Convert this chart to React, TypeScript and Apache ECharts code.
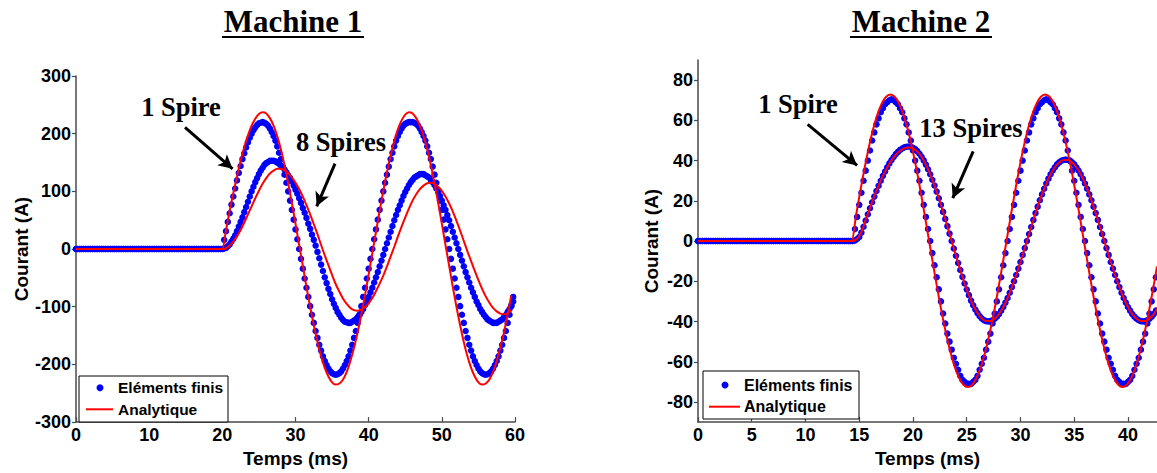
import React, { useEffect, useRef } from "react";
import * as echarts from "echarts";

// ---------------- Machine 1 data (courant en A, temps en ms) ----------------
const M1_FE_STEP = 0.25; // pas des points éléments finis
const M1_AN_STEP = 0.5; // pas des courbes analytiques
const M1_START = 20; // début du transitoire
// valeurs nulles avant le début du transitoire (t = 0 ... 19.75 ms)
const m1Zero = [
  0, 0, 0, 0, 0, 0, 0, 0, 0, 0, 0, 0, 0, 0, 0, 0, 0, 0, 0, 0,
  0, 0, 0, 0, 0, 0, 0, 0, 0, 0, 0, 0, 0, 0, 0, 0, 0, 0, 0, 0,
  0, 0, 0, 0, 0, 0, 0, 0, 0, 0, 0, 0, 0, 0, 0, 0, 0, 0, 0, 0,
  0, 0, 0, 0, 0, 0, 0, 0, 0, 0, 0, 0, 0, 0, 0, 0, 0, 0, 0, 0,
];
// 1 spire - éléments finis (t = 20 ... 59.75)
const m1Fe1 = [
  0, 16, 31, 47, 62, 77, 91, 105, 119, 132, 144, 156, 166, 176, 185, 193, 200, 206, 211, 215, 218, 219, 220,
  219, 217, 214, 209, 203, 196, 188, 178, 167, 156, 143, 129, 115, 100, 84, 68, 51, 34, 17, 0,
  -17, -34, -51, -67, -83, -99, -114, -128, -142, -154, -166, -176, -186, -194, -201, -207, -212, -215, -217, -218,
  -217, -215, -212, -207, -201, -194, -186, -176, -166, -154, -142, -128, -114, -99, -83, -67, -51, -34, -17, 0,
  17, 34, 51, 68, 84, 100, 115, 129, 143, 156, 167, 178, 188, 196, 203, 209, 214, 217, 219, 220,
  220, 220,
  219, 217, 214, 209, 203, 196, 188, 178, 167, 156, 143, 129, 115, 100, 84, 68, 51, 34, 17, 0,
  -17, -34, -51, -67, -83, -99, -114, -128, -142, -154, -166, -176, -186, -194, -201, -207, -212, -215, -217, -218,
  -217, -215, -212, -207, -201, -194, -186, -176, -166, -154, -142, -128, -114, -99, -83,
];
// 8 spires - éléments finis (t = 20 ... 59.75)
const m1Fe8 = [
  0, 1, 2, 5, 8, 13, 18, 24, 31, 39, 47, 55, 64, 73, 82, 91, 100, 108, 116, 123, 130, 136, 141, 146, 149, 151, 153, 153,
  153, 152, 150, 148, 145, 142, 138, 133, 128, 123, 117, 110, 103, 96, 88, 80, 71, 63, 54, 44, 35, 25, 16, 6,
  -5, -16, -27, -38, -49, -59, -69, -78, -87, -95, -102, -109, -114, -119, -123, -126, -127, -128,
  -128, -126, -124, -122, -118, -114, -109, -104, -97, -91, -83, -75, -67, -58, -49, -40, -30, -20, -10, 0,
  10, 20, 30, 40, 50, 59, 68, 76, 84, 92, 99, 105, 111, 116, 120, 124, 126, 128, 130, 130,
  130, 128, 126, 124, 120, 116, 111, 105, 99, 92, 84, 76, 68, 59, 50, 40, 30, 20, 10, 0,
  -10, -20, -30, -40, -49, -58, -67, -75, -83, -91, -97, -104, -109, -114, -118, -122, -124, -126, -128, -128,
  -128, -126, -124, -122, -118, -114, -109, -104, -97, -91,
];
// 1 spire - analytique (t = 20 ... 59.5)
const m1An1 = [
  0, 33, 66, 97, 126, 153, 177, 197, 214, 226, 234, 237,
  235, 227, 214, 196, 173, 145, 114, 80, 44, 7,
  -29, -66, -100, -132, -161, -186, -206, -221, -231, -235,
  -233, -226, -213, -194, -171, -144, -113, -80, -44, -7,
  30, 66, 101, 133, 162, 187, 208, 223, 233, 237,
  235, 227, 214, 196, 173, 145, 114, 80, 44, 7,
  -29, -66, -100, -132, -161, -186, -206, -221, -231, -235,
  -233, -226, -213, -194, -171, -144, -113, -80,
];
// 8 spires - analytique (t = 20 ... 59.5)
const m1An8 = [
  0, 1, 6, 13, 22, 33, 46, 60, 74, 88, 101, 113, 123, 131, 136, 139,
  139, 136, 132, 124, 115, 104, 91, 76, 60, 43, 26, 7,
  -11, -28, -45, -61, -74, -86, -95, -102, -106,
  -107, -105, -101, -94, -85, -73, -60, -46, -30, -13,
  4, 22, 39, 55, 70, 84, 95, 104, 110, 114, 115,
  113, 108, 101, 91, 79, 65, 49, 32, 14,
  -4, -21, -38, -54, -69, -82, -93, -102, -108, -112, -113, -111, -106,
];

// ---------------- Machine 2 data ----------------
const M2_FE_STEP = 0.2;
const M2_AN_STEP = 0.4;
const M2_START = 14.4;
const M2_AN1_START = 14.3;
// t = 0 ... 14.2 ms
const m2Zero = [
  0, 0, 0, 0, 0, 0, 0, 0, 0, 0, 0, 0, 0, 0, 0, 0, 0, 0,
  0, 0, 0, 0, 0, 0, 0, 0, 0, 0, 0, 0, 0, 0, 0, 0, 0, 0,
  0, 0, 0, 0, 0, 0, 0, 0, 0, 0, 0, 0, 0, 0, 0, 0, 0, 0,
  0, 0, 0, 0, 0, 0, 0, 0, 0, 0, 0, 0, 0, 0, 0, 0, 0, 0,
];
// 1 spire - éléments finis (t = 14.4 ... 42.6)
const m2Fe1 = [
  0, 6, 12, 18, 24, 30, 35, 40, 45, 50, 54, 58, 61, 64, 66, 68, 69, 70, 70.5,
  70, 69, 68, 66, 64, 61, 58, 54, 50, 45, 40, 35, 30, 24, 18, 12, 6, 0,
  -6, -12, -18, -24, -30, -36, -41, -46, -50, -54, -58, -61, -64, -67, -69, -70, -71, -71,
  -71, -70, -69, -67, -64, -61, -58, -54, -50, -46, -41, -36, -30, -24, -18, -12, -6, 0,
  6, 12, 18, 24, 30, 35, 40, 45, 50, 54, 58, 61, 64, 66, 68, 69, 70, 70.5,
  70, 69, 68, 66, 64, 61, 58, 54, 50, 45, 40, 35, 30, 24, 18, 12, 6, 0,
  -6, -12, -18, -24, -30, -36, -41, -46, -50, -54, -58, -61, -64, -67, -69, -70, -71, -71,
  -71, -70, -69, -67, -64, -61, -58, -54, -50, -46, -41, -36, -30, -24, -18,
];
// 13 spires - éléments finis (t = 14.4 ... 42.6)
const m2Fe13 = [
  0, 0.3, 1, 2, 4.2, 7.1, 10.2, 13.3, 16.3, 19.3, 22.1, 24.9, 27.5, 30, 32.4, 34.6, 36.7, 38.6, 40.3, 41.8, 43.2, 44.3, 45.3, 46, 46.6, 46.9, 47,
  46.9, 46.4, 45.7, 44.7, 43.4, 41.9, 40.1, 38, 35.7, 33.2, 30.5, 27.6, 24.6, 21.3, 18, 14.5, 11, 7.4, 3.7, 0,
  -3.7, -7.3, -10.9, -14.4, -17.8, -21.1, -24.1, -26.9, -29.6, -31.9, -34, -35.8, -37.3, -38.5, -39.3, -39.8, -40,
  -39.8, -39.4, -38.6, -37.6, -36.3, -34.6, -32.8, -30.6, -28.3, -25.7, -22.9, -20, -16.9, -13.7, -10.4, -6.9, -3.5, 0,
  3.5, 7, 10.5, 13.9, 17.1, 20.3, 23.2, 26, 28.6, 31, 33.2, 35.1, 36.7, 38.1, 39.1, 39.9, 40.3, 40.5,
  40.3, 39.9, 39.1, 38.1, 36.7, 35.1, 33.2, 31, 28.6, 26, 23.2, 20.3, 17.1, 13.9, 10.5, 7, 3.5, 0,
  -3.5, -6.9, -10.4, -13.7, -16.9, -20, -22.9, -25.7, -28.3, -30.6, -32.8, -34.6, -36.3, -37.6, -38.6, -39.4, -39.8, -40,
  -39.8, -39.4, -38.6, -37.6, -36.3, -34.6,
];
// 1 spire - analytique (t = 14.3 ... 42.7)
const m2An1 = [
  0, 12.6, 24.9, 36.4, 46.8, 55.8, 63, 68.4, 71.7, 72.8,
  71.7, 68.4, 63, 55.8, 46.8, 36.4, 24.9, 12.6, 0,
  -12.6, -24.8, -36.3, -46.6, -55.5, -62.8, -68.1, -71.4, -72.5,
  -71.4, -68.1, -62.8, -55.5, -46.6, -36.3, -24.8, -12.6, 0,
  12.6, 24.9, 36.4, 46.8, 55.8, 63, 68.4, 71.7, 72.8,
  71.7, 68.4, 63, 55.8, 46.8, 36.4, 24.9, 12.6, 0,
  -12.6, -24.8, -36.3, -46.6, -55.5, -62.8, -68.1, -71.4, -72.5,
  -71.4, -68.1, -62.8, -55.5, -46.6, -36.3, -24.8, -12.6,
];
// 13 spires - analytique (t = 14.4 ... 42.8)
const m2An13 = [
  0, 1, 4.5, 10.5, 16.5, 22.3, 27.6, 32.4, 36.6, 40.1, 42.9, 44.9, 46.1, 46.5,
  46.1, 44.5, 41.8, 38, 33.2, 27.6, 21.3, 14.5, 7.4, 0,
  -7.3, -14.4, -21.1, -26.9, -31.9, -35.8, -38.5, -39.8,
  -39.8, -38.6, -36.3, -32.8, -28.3, -22.9, -16.9, -10.4, -3.5,
  3.5, 10.5, 17.1, 23.2, 28.6, 33.2, 36.7, 39.1, 40.3,
  40.3, 39.1, 36.7, 33.2, 28.6, 23.2, 17.1, 10.5, 3.5,
  -3.5, -10.4, -16.9, -22.9, -28.3, -32.8, -36.3, -38.6, -39.8,
  -39.8, -38.6, -36.3, -32.8,
];

// axes
const m1XTicks = [0, 10, 20, 30, 40, 50, 60];
const m2XTicks = [0, 5, 10, 15, 20, 25, 30, 35, 40];
const m2YTicks = [-80, -60, -40, -20, 0, 20, 40, 60, 80];

// flèches des annotations [t début, i début, t fin, i fin]
const m1Arrow1 = [14.9, 211, 21.4, 139];
const m1Arrow8 = [35.4, 148, 32.9, 74];
const m2Arrow1 = [10.2, 58, 14.8, 37.6];
const m2Arrow13 = [25.6, 44.6, 23.7, 21.3];

const SANS = "'Liberation Sans', Arial, sans-serif";
const SERIF = "'Liberation Serif', 'Times New Roman', serif";

function pairs(values: number[], start: number, step: number): number[][] {
  return values.map((v, i) => [+(start + i * step).toFixed(3), v]);
}

function arrowLine(a: number[]) {
  return [
    { coord: [a[0], a[1]], symbol: "none" },
    { coord: [a[2], a[3]], symbol: "arrow", symbolSize: [11, 14] },
  ];
}

const axisColor = "#4a4a4a";

function xAxis(grid: number, max: number, ticks: number[]) {
  return {
    type: "value",
    gridIndex: grid,
    min: 0,
    max,
    name: "Temps (ms)",
    nameLocation: "middle",
    nameGap: 26,
    nameTextStyle: { color: "#000", fontSize: 19, fontWeight: "bold", fontFamily: SANS },
    axisLine: { onZero: false, lineStyle: { color: axisColor, width: 1.5 } },
    axisTick: { inside: true, length: 5, customValues: ticks, lineStyle: { color: axisColor, width: 1.2 } },
    axisLabel: { customValues: ticks, color: "#000", fontSize: 18, fontWeight: "bold", fontFamily: SANS, margin: 4 },
    splitLine: { show: false },
  };
}

function yAxis(grid: number, min: number, max: number, ticks: number[], gap: number) {
  return {
    type: "value",
    gridIndex: grid,
    min,
    max,
    name: "Courant (A)",
    nameLocation: "middle",
    nameGap: gap,
    nameTextStyle: { color: "#000", fontSize: 19, fontWeight: "bold", fontFamily: SANS },
    axisLine: { onZero: false, lineStyle: { color: axisColor, width: 1.5 } },
    axisTick: { inside: false, length: 4, customValues: ticks, lineStyle: { color: axisColor, width: 1.2 } },
    axisLabel: { customValues: ticks, color: "#000", fontSize: 18, fontWeight: "bold", fontFamily: SANS, margin: 5 },
    splitLine: { show: false },
  };
}

function feSeries(grid: number, data: number[][]) {
  return {
    type: "scatter",
    name: "Eléments finis",
    xAxisIndex: grid,
    yAxisIndex: grid,
    data,
    symbol: "circle",
    symbolSize: 6.5,
    itemStyle: { color: "#0000ff", opacity: 1 },
    silent: true,
    z: 2,
  };
}

function anSeries(grid: number, data: number[][], arrows: number[][]) {
  return {
    type: "line",
    name: "Analytique",
    xAxisIndex: grid,
    yAxisIndex: grid,
    data,
    symbol: "none",
    showSymbol: false,
    smooth: 0.3,
    lineStyle: { color: "#ff0000", width: 2 },
    silent: true,
    z: 3,
    markLine: arrows.length
      ? {
          silent: true,
          animation: false,
          label: { show: false },
          lineStyle: { color: "#000", width: 3, type: "solid" },
          emphasis: { disabled: true },
          data: arrows.map(arrowLine),
        }
      : undefined,
  };
}

function legendGraphics(x: number, y: number, w: number, h: number, row1: number, row2: number, dotX: number, lx1: number, lx2: number, tx: number, fs: number) {
  const font = `bold ${fs}px ${SANS}`;
  return [
    { type: "rect", z: 100, shape: { x, y, width: w, height: h }, style: { fill: "#fff", stroke: "#000", lineWidth: 1 } },
    { type: "circle", z: 101, shape: { cx: dotX, cy: row1, r: 3.5 }, style: { fill: "#0000ff" } },
    { type: "line", z: 101, shape: { x1: lx1, y1: row2, x2: lx2, y2: row2 }, style: { stroke: "#ff0000", lineWidth: 2 } },
    { type: "text", z: 101, x: tx, y: row1, style: { text: "Eléments finis", font, fill: "#000", verticalAlign: "middle" } },
    { type: "text", z: 101, x: tx, y: row2, style: { text: "Analytique", font, fill: "#000", verticalAlign: "middle" } },
  ];
}

function titleGraphics(text: string, cx: number, x1: number, x2: number) {
  return [
    { type: "text", z: 100, x: cx, y: 21, style: { text, font: `bold 31px ${SERIF}`, fill: "#000", align: "center", verticalAlign: "middle" } },
    { type: "line", z: 100, shape: { x1, y1: 37, x2, y2: 37 }, style: { stroke: "#000", lineWidth: 2 } },
  ];
}

function annot(text: string, x: number, y: number) {
  return { type: "text", z: 100, x, y, style: { text, font: `bold 26.5px ${SERIF}`, fill: "#000", align: "center", verticalAlign: "middle" } };
}

export default function App() {
  const ref = useRef<HTMLDivElement>(null);

  useEffect(() => {
    if (!ref.current) return;
    const chart = echarts.init(ref.current, undefined, { renderer: "svg" });

    const m1FeFlat = pairs(m1Zero, 0, M1_FE_STEP);
    const m2FeFlat = pairs(m2Zero, 0, M2_FE_STEP);

    const option = {
      animation: false,
      backgroundColor: "#fff",
      grid: [
        { left: 76, top: 76, width: 439, height: 349 },
        { left: 698, top: 60, width: 459, height: 364 },
      ],
      xAxis: [xAxis(0, 60, m1XTicks), xAxis(1, 42.7, m2XTicks)],
      yAxis: [
        { ...yAxis(0, -300, 300, [-300, -200, -100, 0, 100, 200, 300], 44), interval: 100 },
        yAxis(1, -90, 90, m2YTicks, 37),
      ],
      series: [
        feSeries(0, [...m1FeFlat, ...pairs(m1Fe1, M1_START, M1_FE_STEP)]),
        feSeries(0, [...m1FeFlat, ...pairs(m1Fe8, M1_START, M1_FE_STEP)]),
        anSeries(0, [...m1FeFlat, ...pairs(m1An1, M1_START, M1_AN_STEP)], [m1Arrow1, m1Arrow8]),
        anSeries(0, [...m1FeFlat, ...pairs(m1An8, M1_START, M1_AN_STEP)], []),
        feSeries(1, [...m2FeFlat, ...pairs(m2Fe1, M2_START, M2_FE_STEP)]),
        feSeries(1, [...m2FeFlat, ...pairs(m2Fe13, M2_START, M2_FE_STEP)]),
        anSeries(1, [...m2FeFlat, ...pairs(m2An1, M2_AN1_START, M2_AN_STEP)], [m2Arrow1, m2Arrow13]),
        anSeries(1, [...m2FeFlat, ...pairs(m2An13, M2_START, M2_AN_STEP)], []),
      ],
      graphic: {
        elements: [
          ...titleGraphics("Machine 1", 293, 222, 364),
          ...titleGraphics("Machine 2", 921, 850, 992),
          annot("1 Spire", 181, 107),
          annot("8 Spires", 341, 142),
          annot("1 Spire", 798, 104),
          annot("13 Spires", 971, 128),
          ...legendGraphics(79, 376, 149, 46, 387.7, 409.3, 100, 86, 113, 118, 15.5),
          ...legendGraphics(703, 371, 156, 48, 385, 406.7, 725, 709, 740, 744, 16),
        ],
      },
    };

    chart.setOption(option as any);
    return () => chart.dispose();
  }, []);

  return (
    <div
      ref={ref}
      style={{ position: "absolute", left: 0, top: 0, width: 1157, height: 473, background: "#fff" }}
    />
  );
}
